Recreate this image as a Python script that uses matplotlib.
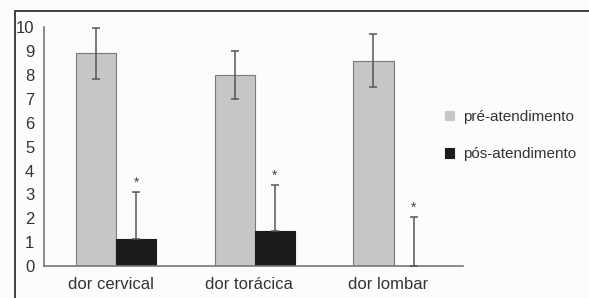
import numpy as np
import matplotlib.pyplot as plt
from matplotlib.patches import Rectangle

plt.rcParams['font.family'] = ['Liberation Sans', 'DejaVu Sans']

# dados
categorias = ['dor cervical', 'dor torácica', 'dor lombar']
pre = [8.9, 8.0, 8.6]
pre_err = [1.05, 1.0, 1.1]
pos = [1.15, 1.45, 0.0]
pos_err = [1.95, 1.95, 2.05]
yticks = list(range(0, 11))

fig = plt.figure(figsize=(5.89, 2.98), dpi=100, facecolor='#fcfcfc')
ax = fig.add_axes([0.0747, 0.107, 0.7113, 0.802])
ax.set_facecolor('#fcfcfc')

x = np.arange(len(categorias))
w = 0.29
ax.bar(x - w / 2, pre, w, color='#c6c6c6', edgecolor='#7a7a7a', linewidth=0.8,
       label='pré-atendimento', zorder=2)
ax.bar(x + w / 2, pos, w, color='#1c1c1c', edgecolor='#1c1c1c', linewidth=0.8,
       label='pós-atendimento', zorder=2)
ax.errorbar(x - w / 2, pre, yerr=pre_err, fmt='none', ecolor='#555555',
            elinewidth=1.1, capsize=2.6, capthick=1.1, zorder=3)
ax.errorbar(x + w / 2, pos, yerr=[np.zeros(3), pos_err], fmt='none', ecolor='#555555',
            elinewidth=1.1, capsize=2.6, capthick=1.1, zorder=3)
for xi, v, e in zip(x + w / 2, pos, pos_err):
    ax.text(xi, v + e + 0.1, '*', ha='center', va='bottom', fontsize=10, color='#444444')

ax.set_xlim(-0.52, 2.5)
ax.set_ylim(0, 10)
ax.set_yticks(yticks)
ax.set_xticks(x - 0.04)
ax.set_xticklabels(categorias)
ax.tick_params(length=0, labelsize=12, labelcolor='#333333')
ax.tick_params(axis='x', pad=8)
ax.tick_params(axis='y', pad=7)
for s in ['top', 'right']:
    ax.spines[s].set_visible(False)
for s in ['left', 'bottom']:
    ax.spines[s].set_color('#777777')
    ax.spines[s].set_linewidth(1.2)

leg = ax.legend(loc='center left', bbox_to_anchor=(0.957, 0.546), frameon=False,
                fontsize=11, labelcolor='#333333', handlelength=0.6, handleheight=0.6,
                handletextpad=0.6, labelspacing=1.55, borderpad=0, borderaxespad=0)
for h in leg.legend_handles:
    h.set_edgecolor(h.get_facecolor())

fig.add_artist(Rectangle((15 / 589, -0.05), 1.1, 1 - 11 / 298 + 0.05,
                         transform=fig.transFigure, fill=False,
                         edgecolor='#333333', linewidth=1.3, clip_on=False))

fig.savefig('out.png', dpi=100, facecolor=fig.get_facecolor())
